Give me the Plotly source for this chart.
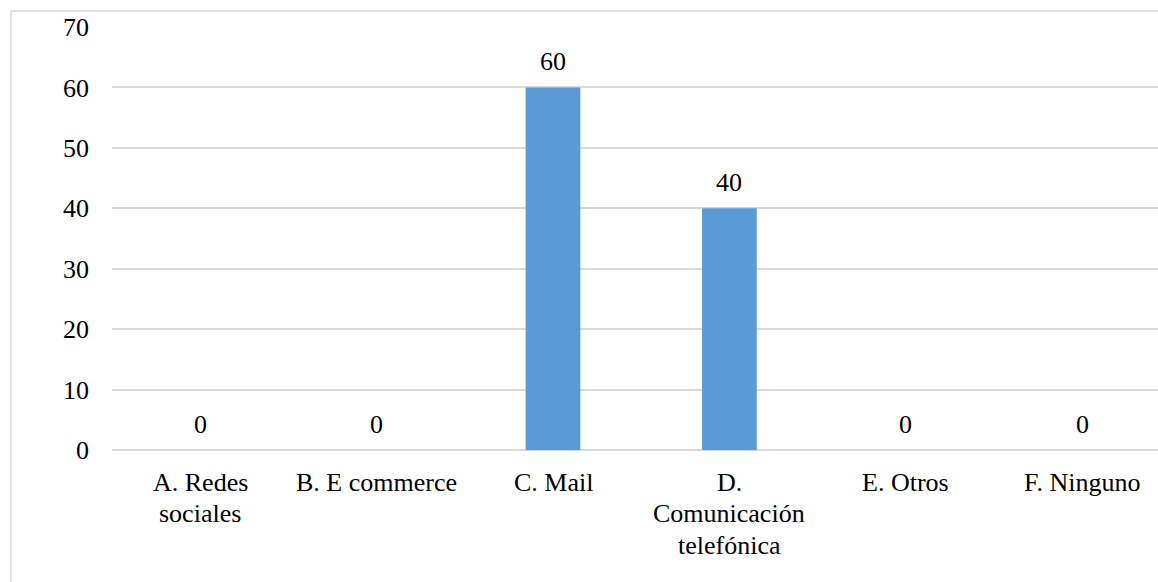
import plotly.graph_objects as go

# Survey answers: channel used, percentage of respondents
categories = ["A. Redes sociales", "B. E commerce", "C. Mail",
              "D. Comunicación telefónica", "E. Otros", "F. Ninguno"]
label_lines = [["A. Redes", "sociales"], ["B. E commerce"], ["C. Mail"],
               ["D.", "Comunicación", "telefónica"], ["E. Otros"], ["F. Ninguno"]]
values = [0, 0, 60, 40, 0, 0]
y_ticks = [0, 10, 20, 30, 40, 50, 60, 70]

FONT = "Liberation Serif"
W, H = 1158, 582
ML, MR, MT, MB = 112, 0, 27, 132
plot_w = W - ML - MR
band = 176.4  # px per category

x_idx = list(range(len(categories)))

fig = go.Figure()
fig.add_trace(go.Bar(
    x=x_idx, y=values, width=0.31,
    marker=dict(color="#5B9BD5", line=dict(width=0)),
    hoverinfo="skip",
))

annotations = []
# value labels above bars
for i, v in zip(x_idx, values):
    annotations.append(dict(
        x=i, y=v, xref="x", yref="y", text=str(v), showarrow=False,
        yanchor="middle", yshift=26,
        font=dict(family=FONT, size=26, color="#000000"),
    ))
# category labels below the axis, one annotation per line
for i, lines in zip(x_idx, label_lines):
    for k, line in enumerate(lines):
        annotations.append(dict(
            x=i, y=0, xref="x", yref="paper", text=line, showarrow=False,
            yanchor="middle", yshift=-32 - 31.5 * k,
            font=dict(family=FONT, size=26, color="#000000"),
        ))

# light frame around the whole chart
fx0 = (11 - ML) / plot_w
fy1 = 1 + (MT - 11) / (H - MT - MB)
fig.add_shape(type="rect", xref="paper", yref="paper",
              x0=fx0, x1=1.05, y0=-0.5, y1=fy1,
              line=dict(color="#D9D9D9", width=1.5), fillcolor="rgba(0,0,0,0)",
              layer="below")

fig.update_layout(
    width=W, height=H,
    margin=dict(l=ML, r=MR, t=MT, b=MB, pad=0),
    paper_bgcolor="white", plot_bgcolor="white",
    showlegend=False,
    annotations=annotations,
    font=dict(family=FONT, size=26, color="#000000"),
    xaxis=dict(
        range=[-0.5, -0.5 + plot_w / band],
        tickvals=x_idx, showticklabels=False, showgrid=False,
        zeroline=False, showline=False, fixedrange=True,
    ),
    yaxis=dict(
        range=[0, 70], tickvals=y_ticks,
        ticktext=[str(t) for t in y_ticks],
        showgrid=True, gridcolor="#D9D9D9", gridwidth=1.5,
        zeroline=True, zerolinecolor="#D9D9D9", zerolinewidth=1.5,
        showline=False, ticks="", ticklabelstandoff=22,
        tickfont=dict(family=FONT, size=26, color="#000000"),
        fixedrange=True,
    ),
)

fig.write_html("out.html", config={"displayModeBar": False})
